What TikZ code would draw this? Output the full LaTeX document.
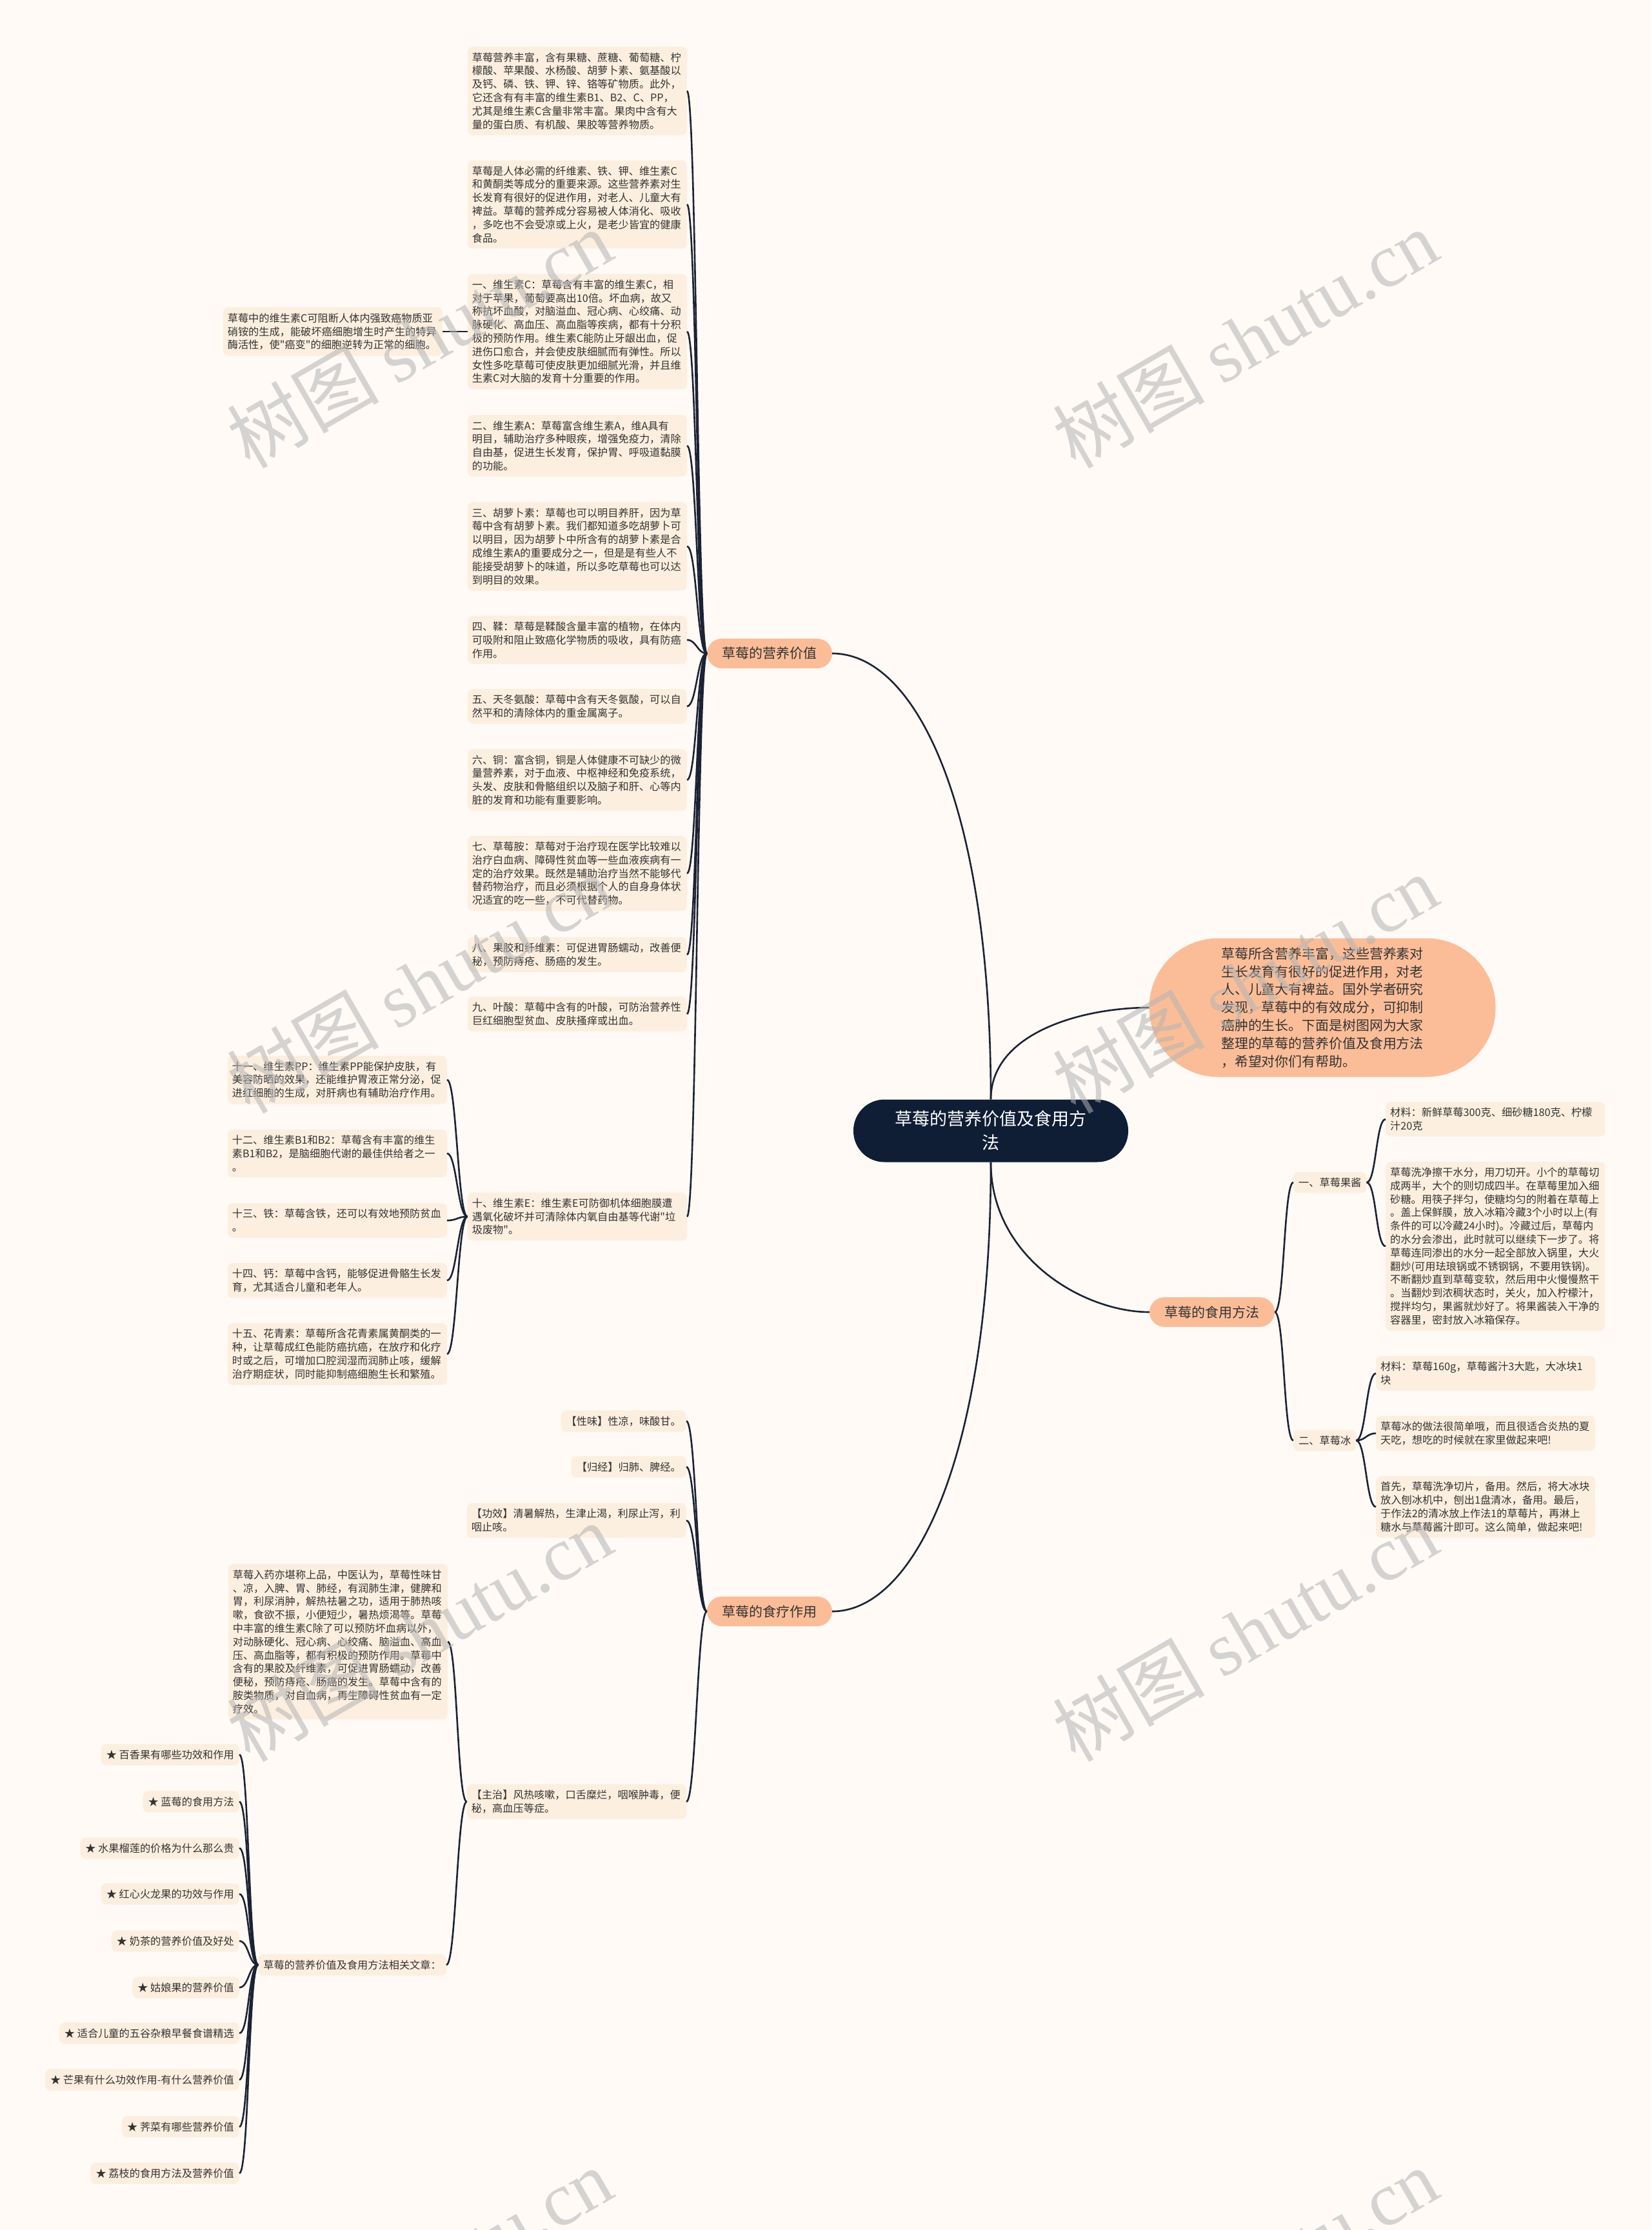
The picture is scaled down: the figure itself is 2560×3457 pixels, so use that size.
\documentclass[tikz,border=0pt]{standalone}
\usepackage{fontspec}
\setmainfont{Noto Sans CJK SC}[Ligatures=TeXOff]
\newfontfamily\wmlatin{Liberation Serif}
\definecolor{bgc}{HTML}{FFFAF6}
\definecolor{leafc}{HTML}{FDEFDF}
\definecolor{brc}{HTML}{FBBD98}
\definecolor{cenc}{HTML}{0F1D35}
\definecolor{linec}{HTML}{1B2233}
\definecolor{textc}{HTML}{333333}
\definecolor{wmc}{HTML}{B4B4B4}

\begin{document}
\begin{tikzpicture}[x=1pt, y=1pt,
  base/.style={fill=leafc, rounded corners=8pt, inner ysep=9pt, align=left, text=textc, font=\fontsize{16.2}{20.8}\selectfont},
  leaf/.style={base, text width=326pt, inner xsep=7pt},
  tag/.style={base, inner xsep=8pt},
  br/.style={fill=brc, rounded corners=23pt, minimum width=194pt, minimum height=46pt, inner sep=2pt, text=textc, font=\fontsize{21}{26}\selectfont},
  hub/.style={fill=cenc, rounded corners=48pt, minimum width=426pt, minimum height=97pt, align=center, text=white, font=\fontsize{27}{37}\selectfont},
  intro/.style={fill=brc, rounded corners=107pt, minimum width=537pt, minimum height=215pt, align=left, text=textc, font=\fontsize{20.9}{27.8}\selectfont},
  ln/.style={draw=linec, line width=2.6pt},
  wm/.style={text=wmc, opacity=0.55, rotate=30, font=\fontsize{118}{128}\selectfont}]
\fill[bgc] (0,0) rectangle (2560,-3457);
\useasboundingbox (0,0) rectangle (2560,-3457);

% centre and main branches
\node[hub] (cen) at (1536,-1753) {草莓的营养价值及食用方\\法};
\node[intro] (intro) at (2050,-1562) {草莓所含营养丰富，这些营养素对\\生长发育有很好的促进作用，对老\\人、儿童大有裨益。国外学者研究\\发现，草莓中的有效成分，可抑制\\癌肿的生长。下面是树图网为大家\\整理的草莓的营养价值及食用方法\\，希望对你们有帮助。};
\node[br] (val) at (1193,-1013) {草莓的营养价值};
\node[br] (eat) at (1879,-2034) {草莓的食用方法};
\node[br] (ther) at (1193,-2498) {草莓的食疗作用};

% nutrition column
\node[leaf, anchor=east] (v1) at (1065,-141) {草莓营养丰富，含有果糖、蔗糖、葡萄糖、柠\\檬酸、苹果酸、水杨酸、胡萝卜素、氨基酸以\\及钙、磷、铁、钾、锌、铬等矿物质。此外，\\它还含有有丰富的维生素B1、B2、C、PP，\\尤其是维生素C含量非常丰富。果肉中含有大\\量的蛋白质、有机酸、果胶等营养物质。};
\node[leaf, anchor=east] (v2) at (1065,-317) {草莓是人体必需的纤维素、铁、钾、维生素C\\和黄酮类等成分的重要来源。这些营养素对生\\长发育有很好的促进作用，对老人、儿童大有\\裨益。草莓的营养成分容易被人体消化、吸收\\，多吃也不会受凉或上火，是老少皆宜的健康\\食品。};
\node[leaf, anchor=east] (v3) at (1065,-514) {一、维生素C：草莓含有丰富的维生素C，相\\对于苹果，葡萄要高出10倍。坏血病，故又\\称抗坏血酸，对脑溢血、冠心病、心绞痛、动\\脉硬化、高血压、高血脂等疾病，都有十分积\\极的预防作用。维生素C能防止牙龈出血，促\\进伤口愈合，并会使皮肤细腻而有弹性。所以\\女性多吃草莓可使皮肤更加细腻光滑，并且维\\生素C对大脑的发育十分重要的作用。};
\node[leaf, anchor=east] (v4) at (1065,-691) {二、维生素A：草莓富含维生素A，维A具有\\明目，辅助治疗多种眼疾，增强免疫力，清除\\自由基，促进生长发育，保护胃、呼吸道黏膜\\的功能。};
\node[leaf, anchor=east] (v5) at (1065,-847) {三、胡萝卜素：草莓也可以明目养肝，因为草\\莓中含有胡萝卜素。我们都知道多吃胡萝卜可\\以明目，因为胡萝卜中所含有的胡萝卜素是合\\成维生素A的重要成分之一，但是是有些人不\\能接受胡萝卜的味道，所以多吃草莓也可以达\\到明目的效果。};
\node[leaf, anchor=east] (v6) at (1065,-992) {四、鞣：草莓是鞣酸含量丰富的植物，在体内\\可吸附和阻止致癌化学物质的吸收，具有防癌\\作用。};
\node[leaf, anchor=east] (v7) at (1065,-1095) {五、天冬氨酸：草莓中含有天冬氨酸，可以自\\然平和的清除体内的重金属离子。};
\node[leaf, anchor=east] (v8) at (1065,-1209) {六、铜：富含铜，铜是人体健康不可缺少的微\\量营养素，对于血液、中枢神经和免疫系统，\\头发、皮肤和骨骼组织以及脑子和肝、心等内\\脏的发育和功能有重要影响。};
\node[leaf, anchor=east] (v9) at (1065,-1354) {七、草莓胺：草莓对于治疗现在医学比较难以\\治疗白血病、障碍性贫血等一些血液疾病有一\\定的治疗效果。既然是辅助治疗当然不能够代\\替药物治疗，而且必须根据个人的自身身体状\\况适宜的吃一些，不可代替药物。};
\node[leaf, anchor=east] (v10) at (1065,-1480) {八、果胶和纤维素：可促进胃肠蠕动，改善便\\秘，预防痔疮、肠癌的发生。};
\node[leaf, anchor=east] (v11) at (1065,-1572) {九、叶酸：草莓中含有的叶酸，可防治营养性\\巨红细胞型贫血、皮肤搔痒或出血。};
\node[leaf, anchor=east] (v12) at (1065,-1886) {十、维生素E：维生素E可防御机体细胞膜遭\\遇氧化破坏并可清除体内氧自由基等代谢"垃\\圾废物"。};
\node[leaf, anchor=east] (vc) at (686,-514) {草莓中的维生素C可阻断人体内强致癌物质亚\\硝铵的生成，能破坏癌细胞增生时产生的特异\\酶活性，使"癌变"的细胞逆转为正常的细胞。};

% vitamin E children
\node[leaf, anchor=east] (e1) at (693,-1674) {十一、维生素PP：维生素PP能保护皮肤，有\\美容防晒的效果，还能维护胃液正常分泌，促\\进红细胞的生成，对肝病也有辅助治疗作用。};
\node[leaf, anchor=east] (e2) at (693,-1788) {十二、维生素B1和B2：草莓含有丰富的维生\\素B1和B2，是脑细胞代谢的最佳供给者之一\\。};
\node[leaf, anchor=east] (e3) at (693,-1892) {十三、铁：草莓含铁，还可以有效地预防贫血\\。};
\node[leaf, anchor=east] (e4) at (693,-1985) {十四、钙：草莓中含钙，能够促进骨骼生长发\\育，尤其适合儿童和老年人。};
\node[leaf, anchor=east] (e5) at (693,-2099) {十五、花青素：草莓所含花青素属黄酮类的一\\种，让草莓成红色能防癌抗癌，在放疗和化疗\\时或之后，可增加口腔润湿而润肺止咳，缓解\\治疗期症状，同时能抑制癌细胞生长和繁殖。};

% eating methods
\node[tag, anchor=west] (fj) at (2005,-1833) {一、草莓果酱};
\node[tag, anchor=west] (fb) at (2005,-2233) {二、草莓冰};
\node[leaf, anchor=west] (fj1) at (2148,-1735) {材料：新鲜草莓300克、细砂糖180克、柠檬\\汁20克};
\node[leaf, anchor=west] (fj2) at (2148,-1932) {草莓洗净擦干水分，用刀切开。小个的草莓切\\成两半，大个的则切成四半。在草莓里加入细\\砂糖。用筷子拌匀，使糖均匀的附着在草莓上\\。盖上保鲜膜，放入冰箱冷藏3个小时以上(有\\条件的可以冷藏24小时)。冷藏过后，草莓内\\的水分会渗出，此时就可以继续下一步了。将\\草莓连同渗出的水分一起全部放入锅里，大火\\翻炒(可用珐琅锅或不锈钢锅，不要用铁锅)。\\不断翻炒直到草莓变软，然后用中火慢慢熬干\\。当翻炒到浓稠状态时，关火，加入柠檬汁，\\搅拌均匀，果酱就炒好了。将果酱装入干净的\\容器里，密封放入冰箱保存。};
\node[leaf, anchor=west] (fb1) at (2133,-2129) {材料：草莓160g，草莓酱汁3大匙，大冰块1\\块};
\node[leaf, anchor=west] (fb2) at (2133,-2222) {草莓冰的做法很简单哦，而且很适合炎热的夏\\天吃，想吃的时候就在家里做起来吧!};
\node[leaf, anchor=west] (fb3) at (2133,-2336) {首先，草莓洗净切片，备用。然后，将大冰块\\放入刨冰机中，刨出1盘清冰，备用。最后，\\于作法2的清冰放上作法1的草莓片，再淋上\\糖水与草莓酱汁即可。这么简单，做起来吧!};

% therapy column
\node[tag, anchor=east] (t1) at (1064,-2203) {【性味】性凉，味酸甘。};
\node[tag, anchor=east] (t2) at (1064,-2274) {【归经】归肺、脾经。};
\node[leaf, anchor=east] (t3) at (1064,-2357) {【功效】清暑解热，生津止渴，利尿止泻，利\\咽止咳。};
\node[leaf, anchor=east] (t4) at (1064,-2793) {【主治】风热咳嗽，口舌糜烂，咽喉肿毒，便\\秘，高血压等症。};
\node[leaf, anchor=east] (tm) at (694,-2545) {草莓入药亦堪称上品，中医认为，草莓性味甘\\、凉，入脾、胃、肺经，有润肺生津，健脾和\\胃，利尿消肿，解热祛暑之功，适用于肺热咳\\嗽，食欲不振，小便短少，暑热烦渴等。草莓\\中丰富的维生素C除了可以预防坏血病以外，\\对动脉硬化、冠心病、心绞痛、脑溢血、高血\\压、高血脂等，都有积极的预防作用。草莓中\\含有的果胶及纤维素，可促进胃肠蠕动，改善\\便秘，预防痔疮、肠癌的发生。草莓中含有的\\胺类物质，对自血病，再生障碍性贫血有一定\\疗效。};
\node[tag, anchor=east] (rel) at (692,-3046) {草莓的营养价值及食用方法相关文章：};

% related articles
\foreach \i/\y/\t in {1/2720/百香果有哪些功效和作用, 2/2793/蓝莓的食用方法, 3/2865/水果榴莲的价格为什么那么贵, 4/2936/红心火龙果的功效与作用, 5/3009/奶茶的营养价值及好处, 6/3081/姑娘果的营养价值, 7/3152/适合儿童的五谷杂粮早餐食谱精选, 8/3224/芒果有什么功效作用-有什么营养价值, 9/3297/荠菜有哪些营养价值, 10/3369/荔枝的食用方法及营养价值}
  \node[tag, anchor=east] (r\i) at (371,-\y) {★ \t};

% connectors
\draw[ln] (cen.north) .. controls (1536,-1250) and (1420,-1013) .. (val.east);
\draw[ln] (cen.south) .. controls (1536,-2250) and (1420,-2498) .. (ther.east);
\draw[ln] (cen.north) .. controls (1536,-1600) and (1680,-1562) .. (intro.west);
\draw[ln] (cen.south) .. controls (1536,-1950) and (1680,-2034) .. (eat.west);
\foreach \i in {1,...,12}
  \draw[ln] (val.west) .. controls +(-15,0) and +(15,0) .. (v\i.east);
\draw[ln] (v3.west) -- (vc.east);
\foreach \i in {1,...,5}
  \draw[ln] (v12.west) .. controls +(-15,0) and +(15,0) .. (e\i.east);
\foreach \c in {fj,fb}
  \draw[ln] (eat.east) .. controls +(15,0) and +(-15,0) .. (\c.west);
\foreach \c in {fj1,fj2}
  \draw[ln] (fj.east) .. controls +(15,0) and +(-15,0) .. (\c.west);
\foreach \c in {fb1,fb2,fb3}
  \draw[ln] (fb.east) .. controls +(15,0) and +(-15,0) .. (\c.west);
\foreach \i in {1,...,4}
  \draw[ln] (ther.west) .. controls +(-15,0) and +(15,0) .. (t\i.east);
\foreach \c in {tm,rel}
  \draw[ln] (t4.west) .. controls +(-15,0) and +(15,0) .. (\c.east);
\foreach \i in {1,...,10}
  \draw[ln] (rel.west) .. controls +(-15,0) and +(15,0) .. (r\i.east);

% watermarks
\foreach \x/\y in {650/525, 1930/525, 650/1525, 1930/1525, 650/2530, 1930/2530, 650/3530, 1930/3530}
  \node[wm] at (\x,-\y) {树图 {\wmlatin shutu.cn}};
\end{tikzpicture}
\end{document}
